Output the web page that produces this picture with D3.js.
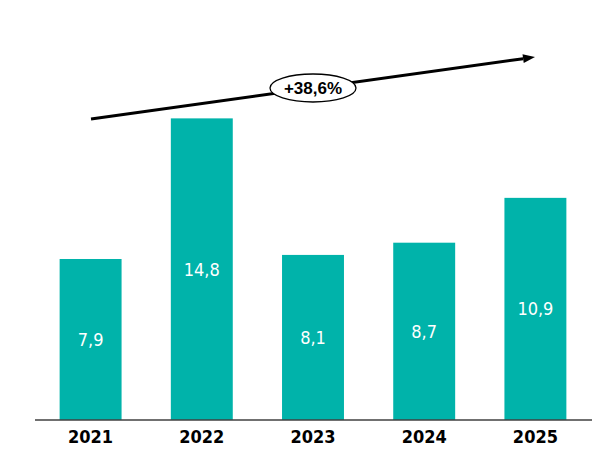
<!DOCTYPE html>
<html>
<head>
<meta charset="utf-8">
<script src="https://cdn.jsdelivr.net/npm/d3@7"></script>
<style>
html,body{margin:0;padding:0;background:#fff;}
svg{display:block;}
</style>
</head>
<body>
<svg id="chart" width="613" height="451"></svg>
<script>
const categories = ["2021", "2022", "2023", "2024", "2025"];
const values = [7.9, 14.8, 8.1, 8.7, 10.9];
const valueLabels = ["7,9", "14,8", "8,1", "8,7", "10,9"];
const growthLabel = "+38,6%";

const svg = d3.select("#chart");
const baseY = 420;

const x = d3.scaleBand()
  .domain(categories)
  .range([35, 591])
  .paddingInner(0.443)
  .paddingOuter(0.2215);

const y = d3.scaleLinear()
  .domain([0, 16])
  .range([baseY, baseY - 20.38 * 16]);

// bars
svg.append("g").selectAll("rect")
  .data(values)
  .join("rect")
  .attr("x", (d, i) => x(categories[i]))
  .attr("y", d => y(d))
  .attr("width", x.bandwidth())
  .attr("height", d => y(0) - y(d))
  .attr("fill", "#00B3AA");

// value labels
svg.append("g").selectAll("text")
  .data(values)
  .join("text")
  .attr("x", (d, i) => x(categories[i]) + x.bandwidth() / 2)
  .attr("y", d => (y(d) + y(0)) / 2 + 6.5)
  .attr("text-anchor", "middle")
  .attr("font-family", "'DejaVu Sans Condensed', 'DejaVu Sans', sans-serif")
  .attr("font-stretch", "condensed")
  .attr("font-size", "18px")
  .attr("fill", "#ffffff")
  .text((d, i) => valueLabels[i]);

// category axis
const axis = d3.axisBottom(x).tickSize(0).tickPadding(0);
const ax = svg.append("g").attr("transform", `translate(0,${baseY})`).call(axis);
ax.select(".domain").remove();
ax.selectAll("text")
  .attr("y", 23)
  .attr("dy", 0)
  .attr("font-family", "'DejaVu Sans Condensed', 'DejaVu Sans', sans-serif")
  .attr("font-stretch", "condensed")
  .attr("font-size", "18px")
  .attr("font-weight", "bold")
  .attr("fill", "#000");
svg.append("line")
  .attr("x1", 35).attr("x2", 592)
  .attr("y1", baseY).attr("y2", baseY)
  .attr("stroke", "#404040")
  .attr("stroke-width", 1.5);

// growth arrow
const x0 = 91, y0 = 119, x1 = 535, y1 = 57;
const ang = Math.atan2(y1 - y0, x1 - x0);
const headLen = 12, headW = 4.5;
const bx = x1 - headLen * Math.cos(ang), by = y1 - headLen * Math.sin(ang);
svg.append("line")
  .attr("x1", x0).attr("y1", y0)
  .attr("x2", bx).attr("y2", by)
  .attr("stroke", "#000").attr("stroke-width", 3);
const px = -Math.sin(ang), py = Math.cos(ang);
svg.append("path")
  .attr("d", `M${x1},${y1}L${bx + px * headW},${by + py * headW}L${bx - px * headW},${by - py * headW}Z`)
  .attr("fill", "#000");

const cx = 313, cy = y0 + (cx - x0) / (x1 - x0) * (y1 - y0);
svg.append("ellipse")
  .attr("cx", cx).attr("cy", cy)
  .attr("rx", 43).attr("ry", 14)
  .attr("fill", "#fff")
  .attr("stroke", "#000")
  .attr("stroke-width", 1.3);
svg.append("text")
  .attr("x", cx).attr("y", cy + 6)
  .attr("text-anchor", "middle")
  .attr("font-family", "'Liberation Sans', Arial, sans-serif")
  .attr("font-size", "17px")
  .attr("font-weight", "bold")
  .attr("fill", "#000")
  .text(growthLabel);
</script>
</body>
</html>
